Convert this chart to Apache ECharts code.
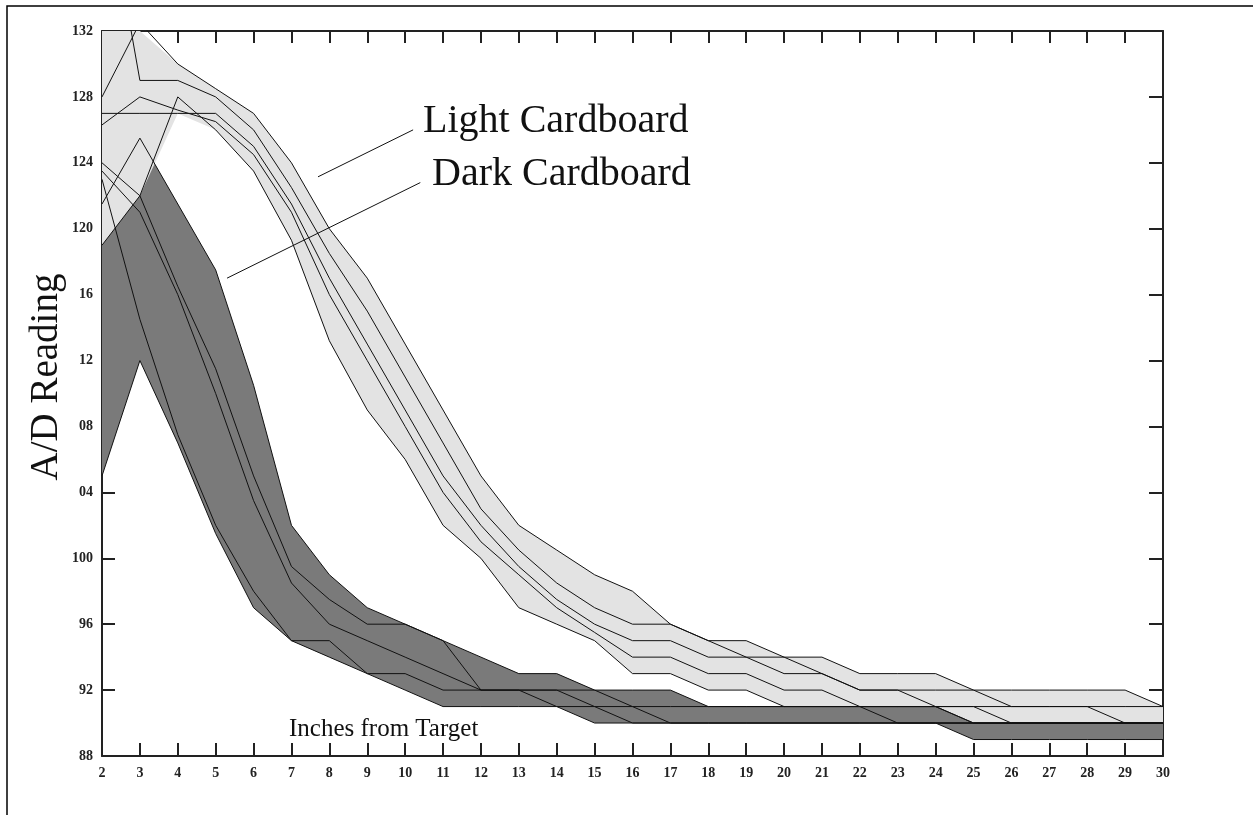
<!DOCTYPE html>
<html>
<head>
<meta charset="utf-8">
<script src="https://cdn.jsdelivr.net/npm/echarts@6/dist/echarts.min.js"></script>
<style>
  html, body { margin: 0; padding: 0; background: #fff; }
  #chart { width: 1253px; height: 815px; }
</style>
</head>
<body>
<div id="chart"></div>
<script>
// inches from target
const inches = [2, 3, 4, 5, 6, 7, 8, 9, 10, 11, 12, 13, 14, 15, 16, 17, 18, 19, 20, 21, 22, 23, 24, 25, 26, 27, 28, 29, 30];

// light cardboard runs
const light1 = [128, 132.5, 130, 128.5, 127, 124, 120, 117, 113, 109, 105, 102, 100.5, 99, 98, 96, 95, 95, 94, 94, 93, 93, 93, 92, 92, 92, 92, 92, 91];
const light2 = [142, 129, 129, 128, 126, 122.5, 118.5, 115, 111, 107, 103, 100.5, 98.5, 97, 96, 96, 95, 94, 94, 93, 92, 92, 92, 92, 91, 91, 91, 91, 91];
const light3 = [127, 127, 127, 127, 125, 121.5, 117, 113, 109, 105, 102, 99.5, 97.5, 96, 95, 95, 94, 94, 93, 93, 92, 92, 91, 91, 91, 91, 91, 90, 90];
const light4 = [126.3, 128, 127.2, 126.5, 124.5, 121, 116, 112, 108, 104, 101, 99, 97, 95.5, 94, 94, 93, 93, 92, 92, 91, 91, 91, 90, 90, 90, 90, 90, 90];
const light5 = [119, 122, 128, 126, 123.5, 119.3, 113.2, 109, 106, 102, 100, 97, 96, 95, 93, 93, 92, 92, 91, 91, 91, 91, 91, 91, 90, 90, 90, 90, 90];

// dark cardboard runs
const dark1 = [121.5, 125.5, 121.5, 117.5, 110.5, 102, 99, 97, 96, 95, 94, 93, 93, 92, 92, 92, 91, 91, 91, 91, 91, 91, 91, 90, 90, 90, 90, 90, 90];
const dark2 = [124, 122, 116.5, 111.5, 105, 99.5, 97.5, 96, 96, 95, 92, 92, 92, 92, 91, 91, 91, 91, 91, 91, 91, 90, 90, 90, 90, 90, 90, 90, 90];
const dark3 = [123.5, 121, 116, 110, 103.5, 98.5, 96, 95, 94, 93, 92, 92, 91, 91, 91, 90, 90, 90, 90, 90, 90, 90, 90, 90, 90, 90, 90, 90, 90];
const dark4 = [123, 114.5, 107.5, 102, 98, 95, 95, 93, 93, 92, 92, 92, 92, 91, 90, 90, 90, 90, 90, 90, 90, 90, 90, 90, 90, 90, 90, 90, 90];
const dark5 = [105, 112, 107, 101.5, 97, 95, 94, 93, 92, 91, 91, 91, 91, 90, 90, 90, 90, 90, 90, 90, 90, 90, 90, 89, 89, 89, 89, 89, 89];

// y tick labels as printed (hundreds digit dropped between 100 and 120)
const yTicks = [88, 92, 96, 100, 104, 108, 112, 116, 120, 124, 128, 132];
const yTickLabels = ['88', '92', '96', '100', '04', '08', '12', '16', '120', '124', '128', '132'];

// leader lines of the two labels, in data units
const lightLeader = [[10.21, 126.0], [7.7, 123.15]];
const darkLeader = [[10.4, 122.8], [5.3, 117.0]];

const lightRuns = [light1, light2, light3, light4, light5];
const darkRuns = [dark1, dark2, dark3, dark4, dark5];

const pairs = (arr) => inches.map((x, i) => [x, arr[i]]);
const lowOf = (runs) => inches.map((x, i) => Math.min(...runs.map((r) => r[i])));
const highOf = (runs) => inches.map((x, i) => Math.max(...runs.map((r) => r[i])));

// shaded envelope between the lowest and highest run of a group
const bandSeries = (runs, color) => {
  const low = lowOf(runs);
  const high = highOf(runs);
  return {
    type: 'custom',
    data: [0],
    silent: true,
    z: 1,
    renderItem: (params, api) => {
      const top = inches.map((x, i) => api.coord([x, high[i]]));
      const bottom = inches.map((x, i) => api.coord([x, low[i]])).reverse();
      const cs = params.coordSys;
      const points = echarts.graphic.clipPointsByRect(top.concat(bottom), {
        x: cs.x, y: cs.y, width: cs.width, height: cs.height,
      });
      return {
        type: 'polygon',
        shape: { points: points },
        style: { fill: color, stroke: null },
      };
    },
  };
};

const runSeries = (runs) =>
  runs.map((r) => ({
    type: 'line',
    symbol: 'none',
    lineStyle: { color: '#111', width: 1 },
    data: pairs(r),
    z: 3,
  }));

const axisColor = '#222';
const labelFont = { fontFamily: 'Liberation Serif', fontSize: 14, fontWeight: 'bold', color: '#222' };

const chart = echarts.init(document.getElementById('chart'));

chart.setOption({
  animation: false,
  backgroundColor: '#fff',
  grid: { left: 102, right: 90, top: 31, bottom: 59 },
  xAxis: [
    {
      type: 'value',
      min: 2,
      max: 30,
      interval: 1,
      position: 'bottom',
      splitLine: { show: false },
      axisLine: { lineStyle: { color: axisColor, width: 2 } },
      axisTick: { inside: true, length: 13, lineStyle: { color: axisColor, width: 2 } },
      axisLabel: { margin: 10, ...labelFont },
    },
    {
      type: 'value',
      min: 2,
      max: 30,
      interval: 1,
      position: 'top',
      splitLine: { show: false },
      axisLine: { lineStyle: { color: axisColor, width: 2 } },
      axisTick: { inside: true, length: 12, lineStyle: { color: axisColor, width: 2 } },
      axisLabel: { show: false },
    },
  ],
  yAxis: [
    {
      type: 'value',
      min: 88,
      max: 132,
      interval: 4,
      position: 'left',
      splitLine: { show: false },
      axisLine: { show: true, lineStyle: { color: axisColor, width: 2 } },
      axisTick: { show: true, inside: true, length: 13, lineStyle: { color: axisColor, width: 2 } },
      axisLabel: {
        margin: 9,
        ...labelFont,
        formatter: (v) => {
          const i = yTicks.indexOf(v);
          return i >= 0 ? yTickLabels[i] : '';
        },
      },
    },
    {
      type: 'value',
      min: 88,
      max: 132,
      interval: 4,
      position: 'right',
      splitLine: { show: false },
      axisLine: { show: true, lineStyle: { color: axisColor, width: 2 } },
      axisTick: { show: true, inside: true, length: 14, lineStyle: { color: axisColor, width: 2 } },
      axisLabel: { show: false },
    },
  ],
  series: [
    bandSeries(darkRuns, '#7a7a7a'),
    bandSeries(lightRuns, '#e3e3e3'),
    ...runSeries(darkRuns),
    ...runSeries(lightRuns),
    {
      type: 'line',
      data: [],
      markLine: {
        silent: true,
        symbol: 'none',
        label: { show: false },
        lineStyle: { color: '#111', width: 1, type: 'solid' },
        data: [
          [{ coord: lightLeader[0] }, { coord: lightLeader[1] }],
          [{ coord: darkLeader[0] }, { coord: darkLeader[1] }],
        ],
      },
      z: 4,
    },
  ],
  graphic: [
    {
      type: 'rect',
      shape: { x: 7, y: 6, width: 1300, height: 900 },
      style: { fill: 'none', stroke: '#000', lineWidth: 1.5 },
      silent: true,
    },
    {
      type: 'text',
      x: 47,
      y: 377,
      rotation: Math.PI / 2,
      style: {
        text: 'A/D Reading',
        font: '39px "Liberation Serif"',
        fill: '#111',
        textAlign: 'center',
        textVerticalAlign: 'middle',
      },
    },
    {
      type: 'text',
      x: 289,
      y: 742,
      style: {
        text: 'Inches from Target',
        font: '25px "Liberation Serif"',
        fill: '#111',
        textAlign: 'left',
        textVerticalAlign: 'bottom',
      },
      z: 10,
    },
    {
      type: 'text',
      x: 423,
      y: 141,
      style: {
        text: 'Light Cardboard',
        font: '40px "Liberation Serif"',
        fill: '#111',
        textAlign: 'left',
        textVerticalAlign: 'bottom',
      },
    },
    {
      type: 'text',
      x: 432,
      y: 194,
      style: {
        text: 'Dark Cardboard',
        font: '40px "Liberation Serif"',
        fill: '#111',
        textAlign: 'left',
        textVerticalAlign: 'bottom',
      },
    },
  ],
});
</script>
</body>
</html>
